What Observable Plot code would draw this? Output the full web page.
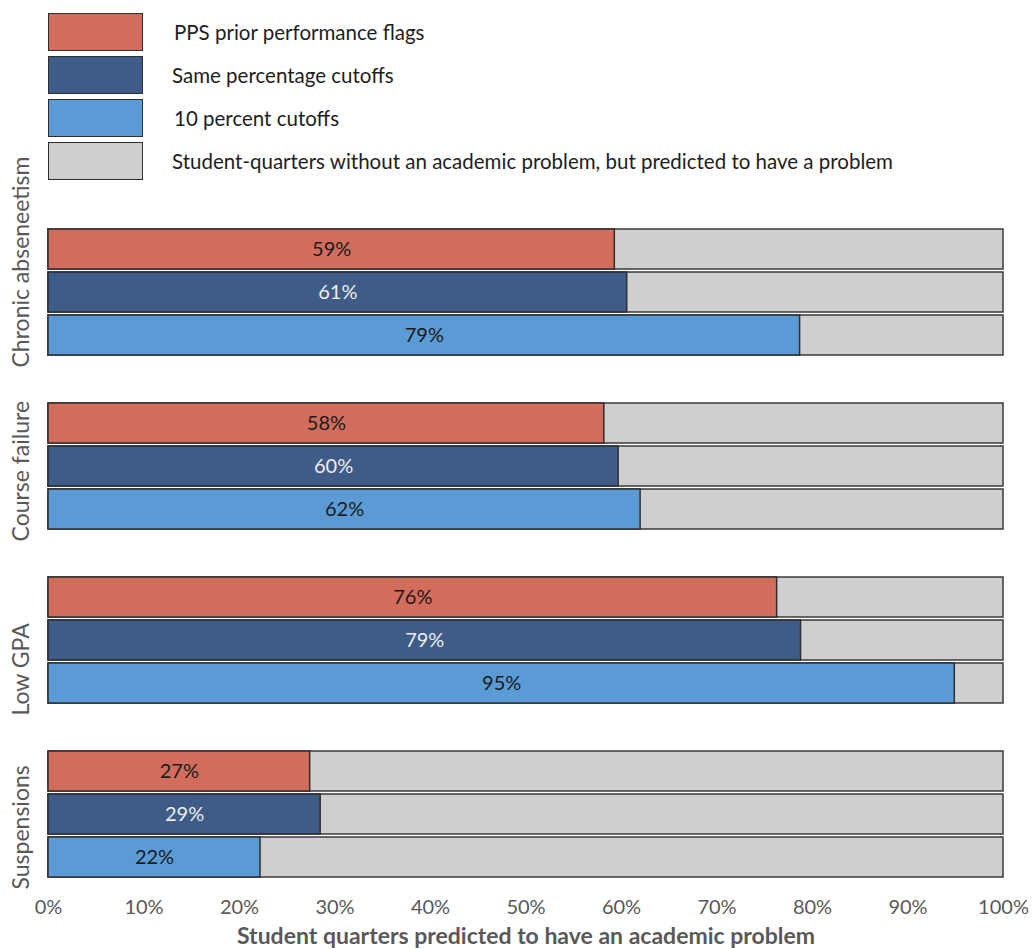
<!DOCTYPE html>
<html>
<head>
<meta charset="utf-8">
<script src="https://cdn.jsdelivr.net/npm/d3@7"></script>
<script src="https://cdn.jsdelivr.net/npm/@observablehq/plot@0.6"></script>
<style>
  body { margin: 0; background: #fff; font-family: Lato, "Open Sans", sans-serif; position: relative; }
  #legend { position: absolute; left: 0; top: 0; width: 1032px; height: 190px; z-index: 2; }
  .lg-sw { position: absolute; left: 48px; width: 93px; height: 36px; border: 1.5px solid #2e2e2e; }
  .lg-tx { position: absolute; left: 172px; font-size: 20.5px; color: #1e1e1e; line-height: 20px; white-space: nowrap; }
  svg [aria-label="x-axis label"] { font-weight: bold; font-size: 23px; }
</style>
</head>
<body>
<div id="chart"></div>
<div id="legend"></div>
<script>
const groups = ["Chronic abseneetism", "Course failure", "Low GPA", "Suspensions"];
const methods = ["PPS prior performance flags", "Same percentage cutoffs", "10 percent cutoffs"];
const legendLabels = [...methods, "Student-quarters without an academic problem, but predicted to have a problem"];
const colors = ["#D26D5D", "#3F5B87", "#5B9BD5", "#D0CECE"];
const labelColors = ["#1a1a1a", "#EDEDED", "#1a1a1a"];
// share (%) of student quarters predicted to have an academic problem, per group, per method
const ppsValues = [59.3, 58.2, 76.3, 27.4];
const samePctValues = [60.6, 59.7, 78.8, 28.5];
const tenPctValues = [78.7, 62.0, 94.9, 22.2];
const xTicks = [0, 10, 20, 30, 40, 50, 60, 70, 80, 90, 100];

const series = [ppsValues, samePctValues, tenPctValues];
const rows = [];
groups.forEach((g, gi) => methods.forEach((m, mi) => rows.push({group: g, method: m, value: series[mi][gi]})));

// legend (overlaid above the plot frame)
const legend = document.getElementById("legend");
const legendTops = [13, 56, 99, 142];
legendLabels.forEach((t, i) => {
  const sw = document.createElement("div");
  sw.className = "lg-sw";
  sw.style.top = legendTops[i] + "px";
  sw.style.background = colors[i];
  legend.appendChild(sw);
  const tx = document.createElement("div");
  tx.className = "lg-tx";
  tx.style.top = (legendTops[i] + 9) + "px";
  tx.style.left = (i === 0 || i === 2 ? 174 : 172) + "px";
  tx.textContent = t;
  legend.appendChild(tx);
});

const chart = Plot.plot({
  width: 1032,
  height: 949,
  marginLeft: 48,
  marginRight: 29,
  marginTop: 228,
  marginBottom: 72,
  style: {fontFamily: "Lato, 'Open Sans', sans-serif", background: "transparent", overflow: "visible"},
  x: {domain: [0, 100]},
  y: {domain: methods, paddingInner: 0.08, paddingOuter: 0, axis: null},
  fy: {domain: groups, paddingInner: 0.276, paddingOuter: 0, axis: null},
  color: {domain: methods, range: colors.slice(0, 3)},
  marks: [
    Plot.barX(rows, {fy: "group", y: "method", x1: 0, x2: 100, fill: colors[3], stroke: "#3a3a3a", strokeWidth: 1.5}),
    Plot.barX(rows, {fy: "group", y: "method", x1: 0, x2: "value", fill: "method", stroke: "#2e2e2e", strokeWidth: 1.5}),
    Plot.text(rows, {fy: "group", y: "method", x: d => d.value / 2, text: d => Math.round(d.value) + "%",
      fill: d => labelColors[methods.indexOf(d.method)], fontSize: 20}),
    Plot.text(groups, {fy: d => d, text: d => d, frameAnchor: "bottom-left", rotate: -90, textAnchor: "start",
      dx: -20, dy: 12, fontSize: 23, fill: "#595959"}),
    Plot.axisX({ticks: xTicks, tickFormat: d => d + "%", tickSize: 0, tickPadding: 22, fontSize: 20, color: "#595959",
      label: "Student quarters predicted to have an academic problem", labelAnchor: "center", labelArrow: false, labelOffset: 66})
  ]
});
document.getElementById("chart").appendChild(chart);
</script>
</body>
</html>
